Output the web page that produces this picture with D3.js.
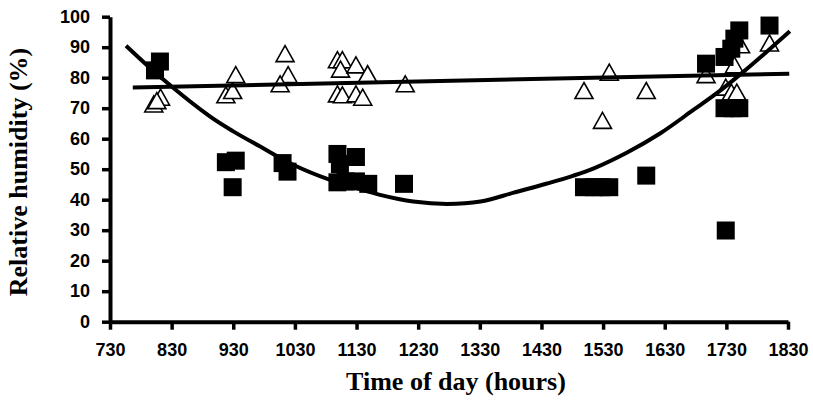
<!DOCTYPE html>
<meta charset="utf-8">
<script src="https://d3js.org/d3.v7.min.js"></script>
<style>
body { margin: 0; background: #fff; }
.axis text { font-family: "Liberation Sans", Arial, sans-serif; font-weight: bold; font-size: 18px; fill: #000; }
.axis path, .axis line { stroke: #000; }
.title { font-family: "Liberation Serif", "Times New Roman", serif; font-weight: bold; font-size: 26px; }
</style>
<div id="chart"></div>
<script>

// squares (filled)
var sqTime = [803, 811, 918, 934, 929, 1010, 1018, 1099, 1103, 1129, 1099, 1112, 1129, 1149, 1207,
  1499, 1515, 1527, 1540, 1600, 1697, 1727, 1738, 1743, 1751, 1800, 1727, 1740, 1751, 1729];
var sqRH = [82.4, 85.3, 52.3, 52.8, 44.1, 52.0, 49.2, 55.0, 51.7, 54.0, 45.7, 46.0, 46.0, 45.2, 45.2,
  44.1, 44.1, 44.1, 44.1, 47.9, 84.6, 86.8, 89.5, 92.8, 95.5, 97.1, 70.0, 70.0, 70.0, 29.9];

// triangles (open)
var triTime = [801, 812, 806, 918, 929, 934, 1014, 1019, 1006, 1099, 1107, 1104, 1129, 1148,
  1099, 1107, 1129, 1140, 1209, 1499, 1540, 1529, 1600, 1697, 1729, 1738, 1747, 1743, 1753, 1800];
var triRH = [71.4, 73.6, 72.5, 74.4, 75.8, 81.0, 87.9, 81.0, 78.0, 85.9, 85.9, 82.8, 84.2, 81.3,
  74.7, 74.4, 74.7, 73.6, 78.0, 75.8, 81.8, 66.0, 75.8, 81.0, 76.9, 75.3, 75.3, 84.2, 90.8, 91.4];

// trend lines
var sqFitTime = [756, 817, 892, 930, 973, 1028, 1087, 1130, 1168, 1222, 1277, 1331, 1385, 1439,
  1482, 1515, 1569, 1623, 1677, 1715, 1758, 1796, 1833];
var sqFitRH = [90.5, 79.3, 67.3, 62.4, 57.5, 51.4, 46.5, 43.8, 41.6, 39.4, 38.6, 39.4, 42.3, 45.3,
  47.9, 50.3, 55.5, 61.8, 69.5, 75.0, 82.0, 88.6, 95.2];
var triFitTime = [767, 1832];
var triFitRH = [76.8, 81.3];

var xTicks = [730, 830, 930, 1030, 1130, 1230, 1330, 1430, 1530, 1630, 1730, 1830];
var yTicks = [0, 10, 20, 30, 40, 50, 60, 70, 80, 90, 100];

var W = 813, H = 419;
var plotLeft = 110, plotRight = 788, plotTop = 16.7, plotBottom = 321.7;

var svg = d3.select("#chart").append("svg")
  .attr("width", W).attr("height", H);

var x = d3.scaleLinear().domain([730, 1830]).range([plotLeft, plotRight]);
var y = d3.scaleLinear().domain([0, 100]).range([plotBottom, plotTop]);

// markers
var triPath = "M0,-8L9,8L-9,8Z";
svg.append("g").selectAll("path")
  .data(d3.range(triTime.length))
  .enter().append("path")
    .attr("d", triPath)
    .attr("transform", function(i) { return "translate(" + x(triTime[i]) + "," + y(triRH[i]) + ")"; })
    .attr("fill", "#fff")
    .attr("stroke", "#000")
    .attr("stroke-width", 1.6);

svg.append("g").selectAll("rect")
  .data(d3.range(sqTime.length))
  .enter().append("rect")
    .attr("x", function(i) { return x(sqTime[i]) - 9; })
    .attr("y", function(i) { return y(sqRH[i]) - 9; })
    .attr("width", 18)
    .attr("height", 18)
    .attr("fill", "#000");

// trend lines
var line = d3.line()
  .x(function(d) { return x(d[0]); })
  .y(function(d) { return y(d[1]); });

svg.append("path")
  .datum(d3.zip(triFitTime, triFitRH))
  .attr("d", line)
  .attr("fill", "none").attr("stroke", "#000").attr("stroke-width", 4);

svg.append("path")
  .datum(d3.zip(sqFitTime, sqFitRH))
  .attr("d", line.curve(d3.curveCatmullRom))
  .attr("fill", "none").attr("stroke", "#000").attr("stroke-width", 4);

// axes
var gy = svg.append("g").attr("class", "axis")
  .attr("transform", "translate(" + plotLeft + ",0)")
  .call(d3.axisLeft(y).tickValues(yTicks).tickFormat(d3.format("d"))
    .tickSize(8).tickSizeOuter(0).tickPadding(12));
var gx = svg.append("g").attr("class", "axis")
  .attr("transform", "translate(0," + plotBottom + ")")
  .call(d3.axisBottom(x).tickValues(xTicks).tickFormat(d3.format("d"))
    .tickSize(8).tickSizeOuter(0).tickPadding(14));
svg.selectAll(".axis path.domain").attr("stroke-width", 4);
svg.selectAll(".axis .tick line").attr("stroke-width", 3.5);

// titles
svg.append("text").attr("class", "title")
  .attr("x", 456).attr("y", 390)
  .attr("text-anchor", "middle")
  .text("Time of day (hours)");

svg.append("text").attr("class", "title")
  .attr("transform", "translate(27,172) rotate(-90)")
  .attr("text-anchor", "middle")
  .text("Relative humidity (%)");

</script>
